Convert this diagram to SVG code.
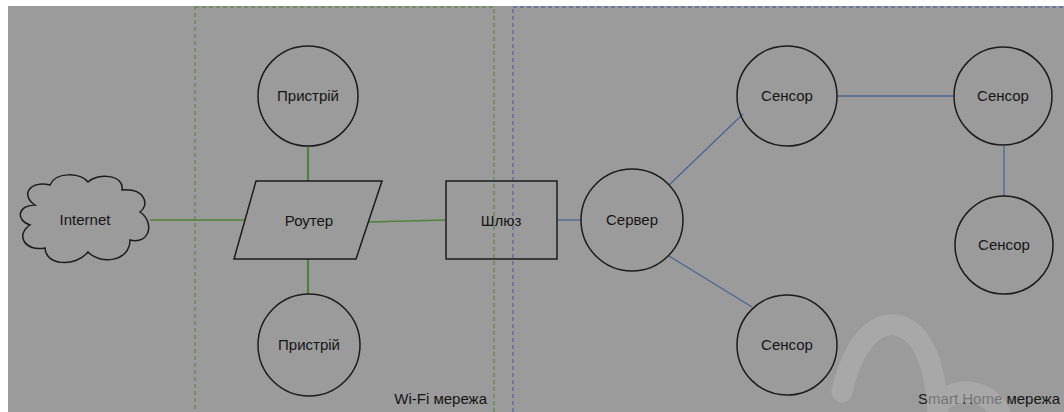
<svg xmlns="http://www.w3.org/2000/svg" width="1064" height="412" viewBox="0 0 1064 412">
  <style>
    .bg { fill: #9b9b9b; }
    .node { fill: none; stroke: #1c1c1c; stroke-width: 1.5; }
    .lbl { font-family: "Liberation Sans", Arial, sans-serif; font-size: 15px; fill: #151515; text-anchor: middle; }
    .zone-lbl { font-family: "Liberation Sans", Arial, sans-serif; font-size: 15px; fill: #151515; text-anchor: end; }
    .wifi { stroke: #4f8237; stroke-width: 1.3; fill: none; }
    .wifi-thick { stroke: #4f8237; stroke-width: 2.2; fill: none; }
    .home { stroke: #4a6597; stroke-width: 1.3; fill: none; }
    .zone-wifi { fill: none; stroke: #4f8237; stroke-width: 1; stroke-dasharray: 4 3; }
    .zone-home { fill: none; stroke: #40579a; stroke-width: 1; stroke-dasharray: 4 3; }
  </style>

  <!-- canvas -->
  <rect x="0" y="0" width="1064" height="412" fill="#ffffff"/>
  <rect class="bg" x="8" y="6" width="1056" height="406"/>

  <!-- network zones -->
  <g id="zone-wifi">
    <rect class="zone-wifi" x="195" y="7" width="299" height="420"/>
    <text class="zone-lbl" x="487" y="404">Wi-Fi мережа</text>
  </g>
  <g id="zone-smart-home">
    <rect class="zone-home" x="513" y="7" width="570" height="420"/>
    <text class="zone-lbl" x="1060" y="404">Smart Home мережа</text>
  </g>

  <!-- connectors -->
  <g id="connectors">
    <line class="wifi" x1="150" y1="220" x2="246" y2="220"/>
    <line class="wifi" x1="369" y1="222" x2="445" y2="220"/>
    <line class="wifi-thick" x1="308" y1="147" x2="308" y2="181"/>
    <line class="wifi-thick" x1="308" y1="259" x2="308" y2="294"/>
    <line class="home" x1="557" y1="220" x2="581" y2="220"/>
    <line class="home" x1="669" y1="185" x2="743" y2="114"/>
    <line class="home" x1="669" y1="256" x2="752" y2="307"/>
    <line class="home" x1="837" y1="96" x2="954" y2="96"/>
    <line class="home" x1="1004" y1="146" x2="1004" y2="196"/>
  </g>

  <!-- nodes -->
  <g id="internet">
    <path class="node" d="M 35 205 C 20 195, 30 180, 50 185 C 55 172, 80 172, 88 182 C 98 172, 125 175, 122 190 C 145 188, 150 205, 140 212 C 155 222, 150 245, 130 240 C 130 262, 100 265, 88 252 C 75 268, 45 265, 45 248 C 25 252, 15 235, 30 225 C 15 220, 18 205, 35 205 Z"/>
    <text class="lbl" x="85" y="225">Internet</text>
  </g>
  <g id="router">
    <polygon class="node" points="256,181 382,181 356,259 234,259"/>
    <text class="lbl" x="309" y="226">Роутер</text>
  </g>
  <g id="device-top">
    <circle class="node" cx="308" cy="96" r="50"/>
    <text class="lbl" x="308" y="101">Пристрій</text>
  </g>
  <g id="device-bottom">
    <circle class="node" cx="309" cy="345" r="51"/>
    <text class="lbl" x="309" y="350">Пристрій</text>
  </g>
  <g id="gateway">
    <rect class="node" x="446" y="181" width="111" height="78"/>
    <text class="lbl" x="501" y="226">Шлюз</text>
  </g>
  <g id="server">
    <circle class="node" cx="632" cy="220" r="51"/>
    <text class="lbl" x="632" y="225">Сервер</text>
  </g>
  <g id="sensor-1">
    <circle class="node" cx="787" cy="96" r="50"/>
    <text class="lbl" x="787" y="101">Сенсор</text>
  </g>
  <g id="sensor-2">
    <circle class="node" cx="1003" cy="96" r="49"/>
    <text class="lbl" x="1003" y="101">Сенсор</text>
  </g>
  <g id="sensor-3">
    <circle class="node" cx="1004" cy="245" r="49"/>
    <text class="lbl" x="1004" y="250">Сенсор</text>
  </g>
  <g id="sensor-4">
    <circle class="node" cx="787" cy="345" r="50"/>
    <text class="lbl" x="787" y="350">Сенсор</text>
  </g>

  <!-- faint swirl mark in the lower right corner -->
  <g id="mark" fill="none" stroke="#b2b2b2" stroke-width="21" stroke-linecap="round" opacity="0.6">
    <path d="M 842 392 C 852 345, 875 322, 895 325 C 918 328, 935 355, 938 412"/>
    <path d="M 940 402 C 965 382, 990 395, 1000 412"/>
  </g>
</svg>
